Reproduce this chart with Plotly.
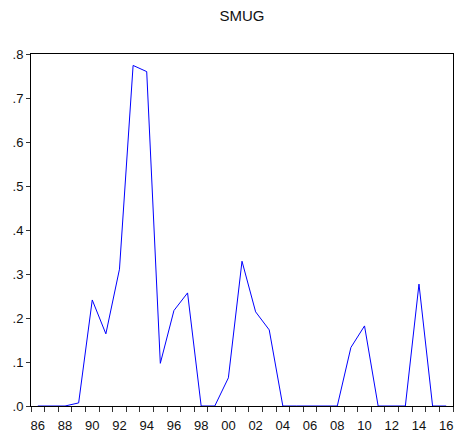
import plotly.graph_objects as go

years = list(range(1986, 2017))
smug = [0.0, 0.0, 0.0, 0.007, 0.241, 0.164, 0.311, 0.774, 0.760, 0.097,
        0.217, 0.257, 0.0, 0.0, 0.064, 0.329, 0.214, 0.173, 0.0, 0.0,
        0.0, 0.0, 0.0, 0.133, 0.182, 0.0, 0.0, 0.0, 0.277, 0.0, 0.0]

label_years = list(range(1986, 2017, 2))
label_text = [f"{y % 100:02d}" for y in label_years]
y_vals = [i / 10 for i in range(9)]
y_text = ["." + str(i) for i in range(9)]

font_family = "Arial, Liberation Sans, sans-serif"

fig = go.Figure()
fig.add_trace(go.Scatter(
    x=years, y=smug, mode="lines",
    line=dict(color="#0000FF", width=1),
    cliponaxis=False, showlegend=False,
))

fig.update_layout(
    width=454, height=436,
    margin=dict(l=31, r=1, t=54, b=30),
    paper_bgcolor="white", plot_bgcolor="white",
    title=dict(text="SMUG", x=0.533, xanchor="center", y=0.965, yanchor="middle",
               font=dict(family=font_family, size=15, color="#111111")),
    font=dict(family=font_family, size=13, color="#111111"),
)
fig.update_xaxes(
    range=[1985.5, 2016.5],
    tickvals=label_years, ticktext=label_text,
    ticks="outside", ticklen=7, tickcolor="rgba(0,0,0,0)",
    minor=dict(tick0=1985.5, dtick=1, ticks="outside", ticklen=5,
               tickcolor="#333333", tickwidth=1, showgrid=False),
    showgrid=False, zeroline=False,
    showline=True, linecolor="black", linewidth=1, mirror=True,
    layer="below traces",
)
fig.update_yaxes(
    range=[0, 0.8],
    tickvals=y_vals, ticktext=y_text,
    ticks="outside", ticklen=4, tickcolor="#333333",
    showgrid=False, zeroline=False,
    showline=True, linecolor="black", linewidth=1, mirror=True,
    layer="below traces",
)

fig.write_html("out.html")
